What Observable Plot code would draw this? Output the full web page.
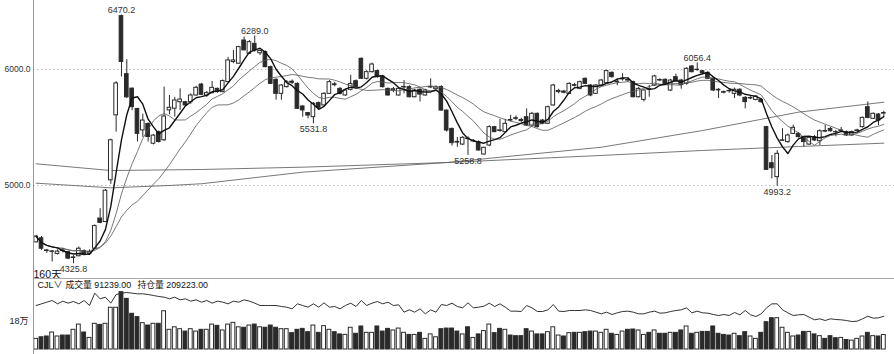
<!DOCTYPE html>
<html><head><meta charset="utf-8">
<script src="https://cdn.jsdelivr.net/npm/d3@7"></script>
<script src="https://cdn.jsdelivr.net/npm/@observablehq/plot@0.6"></script>
<style>
html,body{margin:0;padding:0;background:#fff;}
#wrap{position:relative;width:894px;height:354px;overflow:hidden;background:#fff;}
#price{position:absolute;left:0;top:0;}
#vol{position:absolute;left:0;top:279px;}
.vline{position:absolute;left:33px;top:0;width:1px;height:354px;background:#999;}
.hline{position:absolute;left:33px;top:278px;width:861px;height:1px;background:#aaa;}
</style></head><body>
<div id="wrap"><div id="price"></div><div id="vol"></div><div class="vline"></div><div class="hline"></div></div>
<script>
const opens = [4510,4545,4440,4428,4410,4440,4425,4375,4390,4435,
4410,4455,4715,4685,5045,5605,6460,5960,5835,5660,
5475,5530,5360,5460,5390,5648,5662,5718,5718,5718,
5776,5870,5776,5796,5833,5805,5891,6065,6050,6250,
6135,6221,6140,6150,6020,5911,5790,5848,5895,5876,
5681,5624,5589,5710,5690,5790,5872,5833,5776,5825,
5899,6092,5920,5977,5986,5940,5833,5820,5776,5845,
5848,5761,5825,5776,5845,5830,5848,5646,5488,5376,
5353,5405,5380,5374,5267,5345,5503,5475,5460,5565,
5580,5565,5589,5517,5618,5560,5532,5690,5805,5810,
5790,5865,5833,5920,5862,5790,5862,5882,5971,5890,
5915,5910,5891,5761,5738,5830,5862,5910,5911,5819,
5934,5905,5876,6026,5995,5985,5971,5920,5825,5805,
5815,5790,5825,5756,5750,5738,5738,5503,5192,5072,
5385,5374,5445,5445,5417,5353,5417,5382,5470,5488,
5460,5470,5460,5431,5470,5503,5675,5575,5612,5620];
const highs = [4570,4560,4450,4440,4445,4460,4430,4395,4470,4445,
4445,4660,4800,4965,5400,5895,6470.2,6085,5840,5665,
5615,5540,5440,5470,5848,5776,5760,5833,5725,5790,
5855,5880,5810,5897,5840,5910,6105,6164,6200,6280,
6250,6289,6170,6160,6030,5920,5870,5905,5910,5885,
5690,5630,5715,5720,5800,5905,5890,5845,5830,5950,
5910,6100,5990,6055,5995,5950,5840,5845,5840,5905,
5860,5830,5835,5830,5920,5860,5860,5650,5495,5415,
5420,5420,5395,5385,5330,5515,5510,5570,5570,5605,
5600,5580,5660,5630,5625,5570,5685,5870,5830,5820,
5885,5880,5900,5925,5870,5870,5915,5995,5980,5920,
5963,5925,5900,5845,5825,5862,5950,5920,5920,5915,
5960,5915,6015,6035,6056.4,5990,5980,5930,5835,5815,
5830,5840,5835,5765,5765,5775,5750,5510,5258,5300,
5490,5445,5520,5455,5425,5420,5430,5480,5520,5500,
5475,5500,5470,5470,5485,5590,5720,5625,5620,5640];
const lows = [4505,4440,4415,4340,4400,4420,4360,4325.8,4385,4395,
4400,4450,4670,4680,5010,5460,5935,5750,5645,5375,
5415,5375,5350,5365,5380,5610,5590,5647,5680,5700,
5770,5775,5760,5790,5795,5800,5885,6050,6045,6160,
6130,6150,6120,6015,5870,5735,5735,5840,5870,5655,
5589,5575,5531.8,5660,5685,5785,5850,5780,5770,5815,
5840,5915,5910,5970,5925,5840,5770,5800,5770,5790,
5755,5755,5720,5770,5835,5825,5640,5460,5340,5330,
5345,5258.8,5370,5295,5262,5335,5455,5460,5455,5550,
5560,5545,5510,5510,5495,5525,5525,5685,5790,5790,
5785,5850,5825,5870,5765,5785,5855,5875,5925,5860,
5900,5890,5755,5755,5720,5761,5855,5895,5870,5810,
5890,5830,5865,5970,5985,5960,5915,5810,5750,5790,
5795,5750,5765,5660,5740,5730,5710,5130,5057,4993.2,
5380,5365,5440,5410,5330,5345,5380,5345,5455,5460,
5420,5455,5425,5425,5460,5495,5575,5570,5515,5595];
const closes = [4560,4455,4435,4432,4430,4435,4370,4380,4455,4400,
4425,4650,4678,4955,5390,5880,6065,5760,5675,5445,
5560,5418,5430,5375,5595,5670,5733,5741,5690,5776,
5842,5782,5796,5842,5805,5900,6078,6078,6193,6165,
6236,6164,6160,6020,5876,5790,5862,5890,5885,5661,
5647,5603,5704,5670,5790,5891,5865,5790,5819,5876,
5848,5920,5977,6043,5934,5848,5776,5830,5833,5850,
5761,5819,5784,5819,5850,5845,5646,5474,5365,5370,
5411,5400,5385,5302,5325,5503,5460,5470,5532,5560,
5575,5555,5517,5618,5503,5532,5675,5862,5815,5800,
5876,5860,5891,5876,5776,5862,5905,5986,5934,5895,
5920,5905,5761,5833,5819,5825,5940,5905,5876,5905,
5899,5868,6006,5977,5998,5968,5920,5819,5820,5800,
5812,5825,5776,5719,5755,5767,5718,5135,5149,5273,
5390,5431,5497,5417,5374,5411,5388,5468,5465,5468,
5458,5475,5431,5460,5475,5583,5583,5618,5560,5625];
const volumes = [67000,77000,82000,107000,82000,88000,88000,124000,157000,107000,
73000,162000,155000,162000,263000,263000,361000,319000,225000,204000,
166000,151000,162000,162000,241000,124000,140000,128000,113000,128000,
113000,124000,124000,157000,149000,120000,157000,168000,140000,137000,
151000,157000,140000,137000,151000,137000,128000,128000,103000,124000,
130000,109000,151000,105000,147000,124000,109000,95000,92000,137000,
99000,145000,105000,105000,145000,113000,130000,120000,132000,105000,
92000,92000,105000,67000,95000,77000,128000,132000,132000,113000,
95000,140000,73000,95000,116000,157000,103000,130000,124000,88000,
84000,84000,128000,113000,95000,95000,109000,140000,88000,82000,
103000,105000,105000,109000,113000,113000,105000,124000,99000,92000,
113000,124000,126000,120000,92000,105000,120000,99000,99000,105000,
105000,120000,145000,99000,105000,111000,111000,145000,99000,92000,
88000,99000,84000,109000,82000,67000,105000,172000,197000,197000,
137000,105000,82000,88000,111000,111000,95000,84000,67000,84000,
71000,73000,60000,56000,67000,82000,105000,84000,82000,91239];
const openInterest = [277200,287700,298200,308700,287700,304500,291900,302400,287700,308700,
277200,354900,319200,329700,291900,346500,354900,359100,354900,350700,
350700,346500,340200,333900,329700,319200,329700,312900,319200,304500,
312900,298200,308700,291900,304500,298200,287700,304500,298200,312900,
304500,291900,277200,277200,277200,277200,270900,266700,256200,287700,
277200,266700,287700,266700,294000,266700,270900,256200,277200,291900,
270900,308700,277200,291900,302400,287700,298200,277200,281400,235200,
249900,235200,256200,224700,249900,235200,283500,277200,291900,270900,
262500,294000,262500,266700,273000,291900,270900,287700,266700,241500,
241500,239400,277200,262500,239400,239400,249900,283500,241500,239400,
245700,245700,245700,249900,245700,235200,224700,235200,220500,231000,
239400,241500,235200,224700,224700,235200,241500,228900,231000,239400,
245700,249900,262500,231000,241500,231000,228900,220500,214200,220500,
214200,233100,218400,245700,218400,207900,224700,262500,287700,287700,
249900,231000,214200,218400,220500,203700,186900,193200,182700,193200,
189000,186900,182700,176400,178500,193200,210000,197400,199500,209223];
// long moving lines (candle index, price)
const longAIdx = [0,14,31,50,77,106,125,143,159];
const longAVal = [5187,5129,5138,5158,5198,5259,5302,5336,5365];
const longBIdx = [0,14,25,31,50,77,106,125,143,159];
const longBVal = [5020,4980,5000,5015,5115,5198,5330,5474,5632,5718];
const maPeriods = [5,10,20];
const priceTicks = [5000,6000];
const volTicks = [180000];
const highMarkIdx = [16,41,124];
const lowMarkIdx = [7,52,81,139];
const periodLabel = "160天";

const candles = opens.map((o,i)=>({i, open:o, high:highs[i], low:lows[i], close:closes[i], vol:volumes[i], oi:openInterest[i]}));
const up = d => d.close >= d.open;
const longA = longAIdx.map((i,k)=>({i, v:longAVal[k]}));
const longB = longBIdx.map((i,k)=>({i, v:longBVal[k]}));
const DARK = "#2a2a2a";
const font = "'Liberation Sans','Noto Sans CJK SC',sans-serif";
const xScale = {type:"linear", domain:[-0.5,159.5], range:[33,886], axis:null};

const price = Plot.plot({
  width:894, height:278, marginLeft:33, marginRight:0, marginTop:0, marginBottom:0,
  style:{fontFamily:font, fontSize:"8.5px", color:"#333", background:"transparent"},
  x:xScale,
  y:{domain:[4198.3,6594.8], range:[278,0], ticks:priceTicks, tickFormat:d=>d.toFixed(1), tickSize:0, tickPadding:3, label:null},
  marks:[
    Plot.ruleY(priceTicks, {stroke:"#bbb", strokeDasharray:"1.5,2.5"}),
    Plot.line(longA, {x:"i", y:"v", stroke:"#555", strokeWidth:0.8}),
    Plot.line(longB, {x:"i", y:"v", stroke:"#555", strokeWidth:0.8}),
    Plot.ruleX(candles, {x:"i", y1:"low", y2:"high", stroke:DARK, strokeWidth:1}),
    Plot.rect(candles, {x1:d=>d.i-0.34, x2:d=>d.i+0.34, y1:"open", y2:"close",
      fill:d=>up(d)?"#fff":DARK, stroke:DARK, strokeWidth:1}),
    ...maPeriods.slice(1).map(k=>Plot.line(candles, Plot.windowY({k, anchor:"end"}, {x:"i", y:"close", stroke:"#555", strokeWidth:0.8}))),
    Plot.line(candles, Plot.windowY({k:maPeriods[0], anchor:"end"}, {x:"i", y:"close", stroke:"#111", strokeWidth:1.4})),
    Plot.text(highMarkIdx.map(i=>candles[i]), {x:"i", y:"high", text:d=>d.high.toFixed(1), lineAnchor:"bottom", dy:-2, fontSize:9, fill:"#333"}),
    Plot.text(lowMarkIdx.map(i=>candles[i]), {x:"i", y:"low", text:d=>d.low.toFixed(1), lineAnchor:"top", dy:2, fontSize:9, fill:"#333"}),
    Plot.text([periodLabel], {frameAnchor:"bottom-left", textAnchor:"start", lineAnchor:"bottom", dy:-1, fontSize:10.5, fill:"#111"})
  ]
});
document.getElementById("price").appendChild(price);

const lastVol = volumes[volumes.length-1].toFixed(2);
const lastOI = openInterest[openInterest.length-1].toFixed(2);
const vol = Plot.plot({
  width:894, height:75, marginLeft:33, marginRight:0, marginTop:0, marginBottom:0,
  style:{fontFamily:font, fontSize:"9px", color:"#222", background:"transparent"},
  x:xScale,
  y:{domain:[0,441000], range:[70,0], ticks:volTicks, tickFormat:d=>(d/10000)+"万", tickSize:0, tickPadding:5, label:null},
  marks:[
    Plot.rect(candles, {x1:d=>d.i-0.36, x2:d=>d.i+0.36, y1:0, y2:"vol",
      fill:d=>up(d)?"#fff":DARK, stroke:DARK, strokeWidth:1}),
    Plot.line(candles, {x:"i", y:"oi", stroke:"#333", strokeWidth:1}),
    Plot.text(["CJL∨"], {frameAnchor:"top-left", textAnchor:"start", lineAnchor:"middle", dx:4, dy:6, fontSize:9, fill:"#111"}),
    Plot.text(["成交量 " + lastVol], {frameAnchor:"top-left", textAnchor:"start", lineAnchor:"middle", dx:32, dy:6, fontSize:8.8, fill:"#111"}),
    Plot.text(["持仓量 " + lastOI], {frameAnchor:"top-left", textAnchor:"start", lineAnchor:"middle", dx:104, dy:6, fontSize:8.8, fill:"#111"})
  ]
});
document.getElementById("vol").appendChild(vol);
</script>
</body></html>
